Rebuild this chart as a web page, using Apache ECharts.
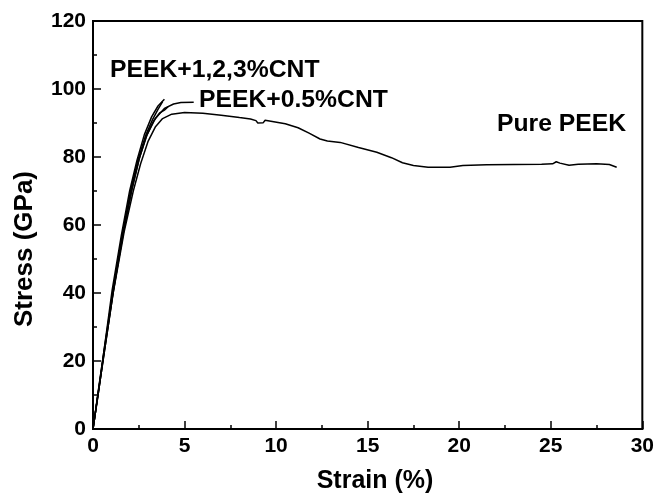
<!DOCTYPE html>
<html><head><meta charset="utf-8">
<script src="https://cdn.jsdelivr.net/npm/echarts@6/dist/echarts.min.js"></script>
<style>html,body{margin:0;padding:0;background:#fff}#c{width:657px;height:497px}</style>
</head><body><div id="c"></div>
<script>
// Strain (%) / Stress (GPa) pairs
const purePEEK = [[0,0],[0.3,11],[0.6,22],[1.1,40],[1.7,58],[2.2,70],[2.6,78],[3.0,84.5],[3.4,88.8],[3.8,91.3],[4.3,92.6],[5.0,93.1],[6.0,92.9],[7.0,92.3],[8.0,91.6],[8.6,91.2],[8.9,90.7],[9.0,90.0],[9.3,90.1],[9.4,90.8],[10.5,89.8],[11.2,88.6],[11.8,87.0],[12.4,85.3],[12.8,84.7],[13.5,84.3],[14.5,82.8],[15.5,81.4],[16.3,79.8],[16.9,78.3],[17.5,77.5],[18.3,77.0],[19.5,77.0],[20.2,77.5],[21.5,77.7],[23.0,77.8],[24.5,77.9],[25.1,78.0],[25.3,78.6],[25.5,78.2],[26.0,77.6],[26.5,77.9],[27.5,78.0],[28.2,77.8],[28.6,77.0]];
const peek05 = [[0,0],[0.3,11],[0.6,22],[1.1,40],[1.65,58],[2.15,71],[2.55,80],[2.95,86.5],[3.4,91.3],[3.9,94.3],[4.4,95.6],[4.8,96.0],[5.5,96.1]];
const peek1 = [[0,0],[0.3,11.5],[0.6,23],[1.1,41],[1.6,57],[2.05,70],[2.45,79],[2.85,86],[3.25,91],[3.55,94],[3.8,96.3]];
const peek2 = [[0,0],[0.3,11.5],[0.6,23],[1.05,41],[1.55,57],[2.0,70],[2.4,79],[2.8,86.5],[3.2,91.8],[3.55,95],[3.9,97]];
const peek3 = [[0,0],[0.3,11],[0.6,22.5],[1.1,40.5],[1.65,57.5],[2.1,70],[2.5,79],[2.9,86],[3.3,90.5],[3.65,93],[3.9,93.8],[4.1,94.8]];
const xTicks = [0,5,10,15,20,25,30];
const yTicks = [0,20,40,60,80,100,120];
const labels = ['PEEK+1,2,3%CNT','PEEK+0.5%CNT','Pure PEEK'];
const xTitle = 'Strain (%)';
const yTitle = 'Stress (GPa)';

const chart = echarts.init(document.getElementById('c'), null, {renderer:'canvas'});
const FONT = 'Liberation Sans, Arial, sans-serif';
const lineSeries = (name, data) => ({
  name, type:'line', data, showSymbol:false, symbol:'none', smooth:false,
  lineStyle:{color:'#000', width:1.5}, z:3, animation:false
});
chart.setOption({
  animation:false,
  backgroundColor:'#fff',
  grid:{left:93, right:14, top:21, bottom:68, show:true, borderColor:'#000', borderWidth:2, backgroundColor:'transparent'},
  xAxis:{
    type:'value', min:xTicks[0], max:xTicks[xTicks.length-1], interval:5,
    axisLine:{show:true, onZero:false, lineStyle:{color:'#000', width:2}},
    axisTick:{show:true, inside:true, length:8, lineStyle:{color:'#000', width:1.5}},
    minorTick:{show:true, splitNumber:2, length:4, lineStyle:{color:'#000', width:1.5}},
    axisLabel:{fontFamily:FONT, fontWeight:'bold', fontSize:21, color:'#000', margin:7},
    splitLine:{show:false}
  },
  yAxis:{
    type:'value', min:yTicks[0], max:yTicks[yTicks.length-1], interval:20,
    axisLine:{show:true, onZero:false, lineStyle:{color:'#000', width:2}},
    axisTick:{show:true, inside:true, length:8, lineStyle:{color:'#000', width:1.5}},
    minorTick:{show:true, splitNumber:2, length:4, lineStyle:{color:'#000', width:1.5}},
    axisLabel:{fontFamily:FONT, fontWeight:'bold', fontSize:21, color:'#000', margin:7},
    splitLine:{show:false}
  },
  series:[
    lineSeries('Pure PEEK', purePEEK),
    lineSeries('PEEK+0.5%CNT', peek05),
    lineSeries('PEEK+1%CNT', peek1),
    lineSeries('PEEK+2%CNT', peek2),
    lineSeries('PEEK+3%CNT', peek3)
  ],
  graphic:[
    {type:'text', x:110, y:58, scaleX:1.03, style:{text:labels[0], font:'bold 24px '+FONT, fill:'#000'}},
    {type:'text', x:199, y:88, scaleX:1.03, style:{text:labels[1], font:'bold 24px '+FONT, fill:'#000'}},
    {type:'text', x:497, y:112, scaleX:1.03, style:{text:labels[2], font:'bold 24px '+FONT, fill:'#000'}},
    {type:'text', x:375, y:481, style:{text:xTitle, font:'bold 25px '+FONT, fill:'#000', align:'center', verticalAlign:'middle'}},
    {type:'text', x:25, y:249, rotation:Math.PI/2, style:{text:yTitle, font:'bold 26px '+FONT, fill:'#000', align:'center', verticalAlign:'middle'}}
  ]
});
</script></body></html>
